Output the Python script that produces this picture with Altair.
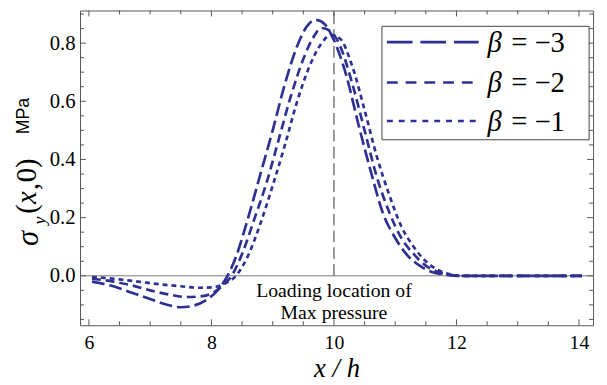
import altair as alt
import pandas as pd

# ---------------- data ----------------
series_names = ["β = −3", "β = −2", "β = −1"]

x_a = [6.05, 6.4, 6.7, 7.0, 7.25, 7.5, 7.7, 7.9, 8.1, 8.25, 8.4, 8.6, 8.8, 9.0, 9.2, 9.4, 9.55, 9.7, 9.85,
       10.0, 10.2, 10.4, 10.6, 10.8, 11.0, 11.2, 11.4, 11.6, 11.8, 12.0, 14.05]
y_a = [-0.020, -0.036, -0.058, -0.080, -0.098, -0.108, -0.103, -0.085, -0.050, -0.005, 0.065, 0.200, 0.350,
       0.500, 0.660, 0.790, 0.855, 0.880, 0.865, 0.810, 0.690, 0.520, 0.360, 0.215, 0.130, 0.070, 0.035,
       0.013, 0.004, 0.0, 0.0]

x_b = [6.05, 6.4, 6.7, 7.0, 7.3, 7.6, 7.85, 8.05, 8.2, 8.33, 8.5, 8.7, 8.9, 9.1, 9.3, 9.5, 9.65, 9.8, 9.95,
       10.1, 10.3, 10.5, 10.7, 10.9, 11.1, 11.3, 11.5, 11.7, 11.9, 12.05, 14.05]
y_b = [-0.010, -0.020, -0.033, -0.050, -0.064, -0.073, -0.070, -0.055, -0.030, 0.000, 0.075, 0.195, 0.320,
       0.470, 0.620, 0.745, 0.815, 0.852, 0.840, 0.790, 0.660, 0.500, 0.340, 0.220, 0.130, 0.075, 0.035,
       0.013, 0.003, 0.0, 0.0]

x_c = [6.05, 6.4, 6.8, 7.2, 7.5, 7.8, 8.0, 8.2, 8.4, 8.6, 8.8, 9.0, 9.2, 9.4, 9.6, 9.8, 9.95, 10.1, 10.3,
       10.5, 10.7, 10.9, 11.1, 11.3, 11.5, 11.7, 11.9, 12.1, 14.05]
y_c = [-0.004, -0.010, -0.020, -0.030, -0.036, -0.041, -0.040, -0.028, 0.000, 0.070, 0.180, 0.310, 0.450,
       0.600, 0.720, 0.800, 0.828, 0.815, 0.720, 0.570, 0.410, 0.280, 0.170, 0.100, 0.050, 0.020, 0.005,
       0.0, 0.0]

x_ticks_major = [6, 8, 10, 12, 14]
x_ticks_minor = [6.5, 7, 7.5, 8.5, 9, 9.5, 10.5, 11, 11.5, 12.5, 13, 13.5]
y_ticks_major = [0.0, 0.2, 0.4, 0.6, 0.8]
y_ticks_minor = [-0.15, -0.1, -0.05, 0.05, 0.1, 0.15, 0.25, 0.3, 0.35, 0.45, 0.5, 0.55,
                 0.65, 0.7, 0.75, 0.85, 0.9]

annotation_lines = ["Loading location of", "Max pressure"]
annotation_y = [-0.052, -0.128]
load_x = [10]

# ---------------- styling ----------------
W, H = 520, 319
XDOM = [5.855, 14.23]
YDOM = [-0.17, 0.912]
BLUE = "#2E3192"
FRAME = "#555555"
SERIF = "Liberation Serif, Times New Roman, DejaVu Serif, serif"
SANS = "Liberation Sans, Arial, sans-serif"

xs = alt.Scale(domain=XDOM, nice=False, zero=False)
ys = alt.Scale(domain=YDOM, nice=False, zero=False)

rows = []
for name, xx, yy in [(series_names[0], x_a, y_a), (series_names[1], x_b, y_b), (series_names[2], x_c, y_c)]:
    for a, b in zip(xx, yy):
        rows.append({"series": name, "x": a, "y": b})
curves_df = pd.DataFrame(rows)

curves = alt.Chart(curves_df).mark_line(
    color=BLUE, strokeWidth=2.7, interpolate="monotone", clip=True
).encode(
    x=alt.X("x:Q", scale=xs, axis=alt.Axis(
        values=x_ticks_major, format="d", ticks=False, domain=False, grid=False,
        labelFont=SERIF, labelFontSize=20, labelColor="black", labelPadding=8,
        title="x / h", titleFont=SERIF, titleFontSize=27, titleFontStyle="italic",
        titleFontWeight="normal", titleColor="black", titlePadding=3)),
    y=alt.Y("y:Q", scale=ys, axis=alt.Axis(
        values=y_ticks_major, format=".1f", ticks=False, domain=False, grid=False,
        labelFont=SERIF, labelFontSize=21, labelColor="black", labelPadding=5, title="")),
    strokeDash=alt.StrokeDash("series:N", scale=alt.Scale(domain=series_names,
                              range=[[13, 5], [9, 5], [5, 4]]), legend=None),
    detail="series:N",
)

zero_line = alt.Chart(pd.DataFrame({"y": [0.0]})).mark_rule(color="#777777", strokeWidth=1).encode(
    y=alt.Y("y:Q", scale=ys))

load_line = alt.Chart(pd.DataFrame({"x": load_x, "y": [0.0]})).mark_rule(
    color="#555555", strokeWidth=1.2, strokeDash=[12, 5]).encode(
    x=alt.X("x:Q", scale=xs), y=alt.Y("y:Q", scale=ys), y2=alt.value(0))

annot = alt.Chart(pd.DataFrame({"x": [10, 10], "y": annotation_y, "t": annotation_lines})).mark_text(
    font=SERIF, fontSize=20, color="black", align="center", baseline="middle").encode(
    x=alt.X("x:Q", scale=xs), y=alt.Y("y:Q", scale=ys), text="t:N")

def xticks(vals, y0, y1):
    return alt.Chart(pd.DataFrame({"v": vals})).mark_rule(color=FRAME, strokeWidth=1).encode(
        x=alt.X("v:Q", scale=xs), y=alt.value(y0), y2=alt.value(y1))

def yticks(vals, x0, x1):
    return alt.Chart(pd.DataFrame({"v": vals})).mark_rule(color=FRAME, strokeWidth=1).encode(
        y=alt.Y("v:Q", scale=ys), x=alt.value(x0), x2=alt.value(x1))

ticks = [
    xticks(x_ticks_major, H, H - 6), xticks(x_ticks_minor, H, H - 4),
    xticks(x_ticks_major, 0, 6), xticks(x_ticks_minor, 0, 4),
    yticks(y_ticks_major, 0, 6), yticks(y_ticks_minor, 0, 4),
    yticks(y_ticks_major, W, W - 6), yticks(y_ticks_minor, W, W - 4),
]

# ---------------- legend (manual) ----------------
one = pd.DataFrame({"a": [0]})
legend_box = alt.Chart(one).mark_rect(fill="white", stroke="#444444", strokeWidth=1).encode(
    x=alt.value(306), x2=alt.value(516), y=alt.value(16), y2=alt.value(131))
legend_rows_y = [32, 73, 112]
legend_dash = [[26, 8], [11, 8], [6, 6]]
legend_layers = [legend_box]
for name, ry, dash in zip(series_names, legend_rows_y, legend_dash):
    d = pd.DataFrame({"sym": [name[0]], "rest": [name[1:].strip()]})
    legend_layers.append(alt.Chart(d).mark_rule(color=BLUE, strokeWidth=2.7, strokeDash=dash).encode(
        x=alt.value(311), x2=alt.value(404), y=alt.value(ry)))
    legend_layers.append(alt.Chart(d).mark_text(font=SERIF, fontSize=29, fontStyle="italic",
                                                color="black", align="left", baseline="middle").encode(
        x=alt.value(413), y=alt.value(ry + 1), text="sym:N"))
    legend_layers.append(alt.Chart(d).mark_text(font=SERIF, fontSize=29, color="black",
                                                align="left", baseline="middle").encode(
        x=alt.value(437), y=alt.value(ry + 1), text="rest:N"))

# ---------------- y title (manual pieces) ----------------
def ytext(s, x, y, size, style="normal", font=SERIF, align="center"):
    return alt.Chart(pd.DataFrame({"t": [s]})).mark_text(
        font=font, fontSize=size, fontStyle=style, color="black", angle=270,
        align=align, baseline="middle").encode(x=alt.value(x), y=alt.value(y), text="t:N")

ytitle = [
    ytext("σ", -52, 231, 31, "italic"),
    ytext("y", -41, 213, 18, "italic"),
    ytext("(", -54, 206, 29, align="left"),
    ytext("x", -54, 196, 29, "italic", align="left"),
    ytext(",", -52, 182, 29, align="left"),
    ytext("0)", -54, 174, 29, align="left"),
    ytext("MPa", -57, 107, 18, font=SANS),
]

chart = alt.layer(zero_line, load_line, curves, annot, *ticks, *legend_layers, *ytitle).properties(
    width=W, height=H,
    autosize=alt.AutoSizeParams(type="none"),
    padding={"left": 73, "top": 0, "right": 6, "bottom": 58},
).configure_view(stroke=FRAME, strokeWidth=1)

chart.save("out.html", embed_options={"renderer": "svg", "actions": False})
